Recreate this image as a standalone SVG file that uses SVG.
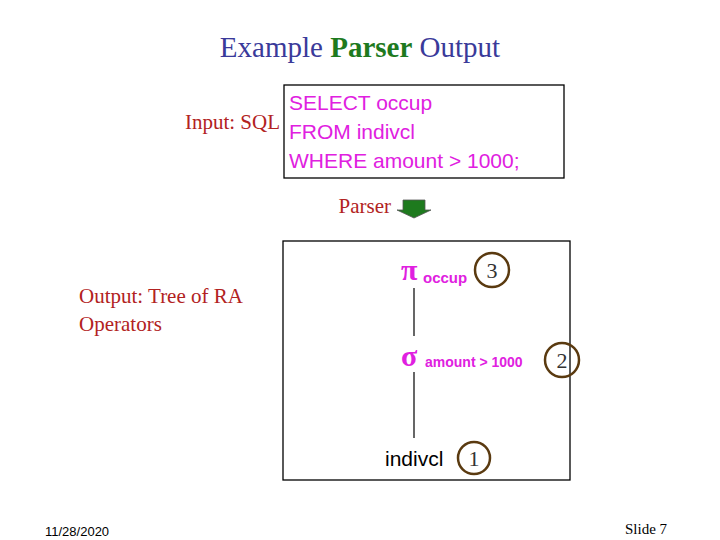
<svg xmlns="http://www.w3.org/2000/svg" width="720" height="540" viewBox="0 0 720 540">
<style>
.serif{font-family:"Liberation Serif",serif}
.sans{font-family:"Liberation Sans",sans-serif}
.red{fill:#B22222}
.mag{fill:#E020E0}
.num{fill:none;stroke:#5A3A10;stroke-width:2.5}
.box{fill:none;stroke:#000;stroke-width:1.3}
</style>
<rect width="720" height="540" fill="#fff"/>
<text x="360" y="57" text-anchor="middle" class="serif" font-size="29" fill="#3A3A9A">Example <tspan font-weight="bold" fill="#1E7A1E">Parser</tspan> Output</text>
<g id="input">
<text x="280" y="129" text-anchor="end" class="serif red" font-size="21">Input: SQL</text>
<rect class="box" x="284" y="85" width="280" height="93"/>
<text class="sans mag" font-size="21"><tspan x="289" y="110">SELECT occup</tspan><tspan x="289" y="139">FROM indivcl</tspan><tspan x="289" y="168">WHERE amount &gt; 1000;</tspan></text>
</g>
<g id="parser">
<text x="391" y="213" text-anchor="end" class="serif red" font-size="21">Parser</text>
<path d="M403 200 H425 V210 H431 L414 218 L397 210 H403 Z" fill="#1E7A1E" stroke="#555" stroke-width="0.8"/>
</g>
<text class="serif red" font-size="21"><tspan x="79" y="303">Output: Tree of RA</tspan><tspan x="79" y="331">Operators</tspan></text>
<rect class="box" x="283" y="241" width="287" height="239"/>
<g id="connectors" stroke="#000" stroke-width="1.2">
<line x1="414" y1="288" x2="414" y2="336"/>
<line x1="414" y1="372" x2="414" y2="438"/>
</g>
<g id="pi">
<text x="401" y="280" class="serif mag" font-size="30" font-weight="bold">π</text>
<text x="423" y="283" class="sans mag" font-size="15" font-weight="bold">occup</text>
<circle class="num" cx="492" cy="270" r="17"/>
<text x="492" y="278" text-anchor="middle" class="serif" font-size="22" fill="#333">3</text>
</g>
<g id="sigma">
<text x="401" y="366" class="serif mag" font-size="30" font-weight="bold">σ</text>
<text x="425" y="367" class="sans mag" font-size="14" font-weight="bold">amount &gt; 1000</text>
<circle class="num" cx="562" cy="360" r="17"/>
<text x="562" y="368" text-anchor="middle" class="serif" font-size="22" fill="#333">2</text>
</g>
<g id="indivcl">
<text x="385" y="466" class="sans" font-size="21">indivcl</text>
<circle class="num" cx="474" cy="458" r="16"/>
<text x="474" y="466" text-anchor="middle" class="serif" font-size="22" fill="#333">1</text>
</g>
<text x="45" y="536" class="sans" font-size="13">11/28/2020</text>
<text x="625" y="534" class="serif" font-size="15">Slide 7</text>
</svg>
